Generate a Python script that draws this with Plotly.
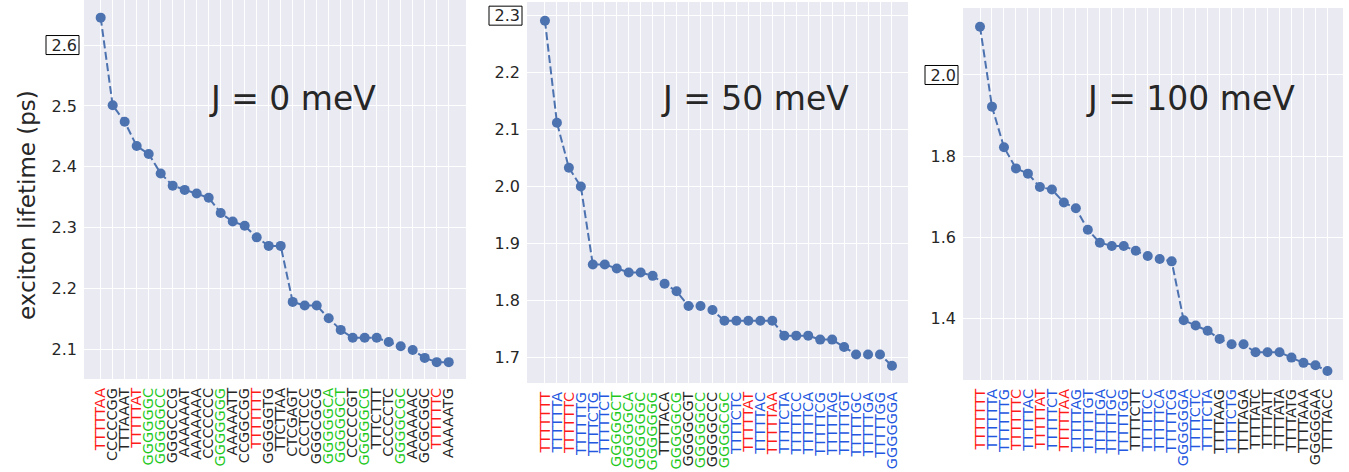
import plotly.graph_objects as go

# ---------------- data ----------------
seq_j0 = ["TTTTTAA", "CCCCCGG", "TTTAAAT", "TTTTTAT", "GGGGGGC", "GGGGGCC", "GGGCCCG",
          "AAAAAAT", "AAAAAAA", "CCCCCCC", "GGGGGGG", "AAAAATT", "CCGGCGG", "TTTTTTT",
          "GGGGGTG", "TTCTTAA", "CTCGAGT", "CCCTCCC", "GGGCGCG", "GGGGGCA", "GGGGGCT",
          "CCCCCGT", "GGGGGCG", "TTTCTTT", "CCCCCTC", "GGGGCGC", "AAAAAAC", "GCGCGGC",
          "TTTTTTC", "AAAAATG"]
grp_j0 = ["R", "K", "K", "R", "G", "G", "K", "K", "K", "K", "G", "K", "K", "R", "K",
          "K", "K", "K", "K", "G", "G", "K", "G", "K", "K", "G", "K", "K", "R", "K"]
life_j0 = [2.645, 2.501, 2.474, 2.434, 2.421, 2.389, 2.369, 2.362, 2.356, 2.349,
           2.324, 2.310, 2.303, 2.284, 2.270, 2.270, 2.178, 2.172, 2.172, 2.151,
           2.132, 2.119, 2.119, 2.119, 2.112, 2.105, 2.099, 2.086, 2.079, 2.079]

seq_j50 = ["TTTTTTT", "TTTTTTA", "TTTTTTC", "TTTTTTG", "TTTTCTG", "TTTTTCT", "GGGGGCT",
           "GGGGGCA", "GGGGGGC", "GGGGGGG", "TTTTACA", "GGGGGCG", "GGGGCGT", "GGGGGCC",
           "GGGGCCC", "GGGGCGC", "TTTTCTC", "TTTTTAT", "TTTTTAC", "TTTTTAA", "TTTTCTA",
           "TTTTTCC", "TTTTTCA", "TTTTTCG", "TTTTTAG", "TTTTTGT", "TTTTTGC", "TTTTTGA",
           "TTTTTGG", "GGGGGGA"]
grp_j50 = ["R", "B", "R", "B", "B", "B", "G", "G", "G", "G", "K", "G", "K", "G", "K",
           "G", "B", "R", "B", "R", "B", "B", "B", "B", "B", "B", "B", "B", "B", "B"]
life_j50 = [2.291, 2.112, 2.033, 2.000, 1.863, 1.863, 1.856, 1.849, 1.849, 1.843,
            1.829, 1.816, 1.790, 1.790, 1.783, 1.764, 1.764, 1.764, 1.764, 1.764,
            1.738, 1.738, 1.738, 1.731, 1.731, 1.718, 1.705, 1.705, 1.705, 1.685]

seq_j100 = ["TTTTTTT", "TTTTTTA", "TTTTTTG", "TTTTTTC", "TTTTTAC", "TTTTTAT", "TTTTTCT",
            "TTTTTAA", "TTTTTAG", "TTTTTGT", "TTTTTGA", "TTTTTGC", "TTTTTGG", "TTTTCTT",
            "TTTTTCC", "TTTTTCA", "TTTTTCG", "GGGGGGA", "TTTTCTC", "TTTTCTA", "TTTTAAG",
            "TTTTCTG", "TTTTAGA", "TTTTATC", "TTTTATT", "TTTTATA", "TTTTATG", "TTTTAAA",
            "GGGGGAA", "TTTTACC"]
grp_j100 = ["R", "B", "B", "R", "B", "R", "B", "R", "B", "B", "B", "B", "B", "K", "B",
            "B", "B", "B", "B", "B", "K", "B", "K", "K", "K", "K", "K", "K", "K", "K"]
life_j100 = [2.119, 1.922, 1.822, 1.770, 1.757, 1.724, 1.718, 1.686, 1.672, 1.619,
             1.587, 1.579, 1.579, 1.567, 1.554, 1.547, 1.541, 1.396, 1.383, 1.370,
             1.350, 1.337, 1.337, 1.317, 1.317, 1.317, 1.304, 1.291, 1.285, 1.271]

titles = ["J = 0 meV", "J = 50 meV", "J = 100 meV"]
boxed_ticks = [2.6, 2.3, 2.0]
ytitle = "exciton lifetime (ps)"

# ---------------- style ----------------
W, H = 1349, 472
FONT = "DejaVu Sans"
TXT = "#262626"
BG = "#EAEAF2"
LINE = "#4C72B0"
GRP_COLOR = {"R": "#ff1a1a", "G": "#1ec81e", "B": "#2457e0", "K": "#262626"}

panels = [
    dict(seq=seq_j0, grp=grp_j0, y=life_j0, px=(84, 466), py=(0, 379),
         xr=(-1.39, 30.44), yr=(2.0513, 2.674), dtick=0.1, tpos=(292, 98)),
    dict(seq=seq_j50, grp=grp_j50, y=life_j50, px=(527, 908), py=(2, 383),
         xr=(-1.5, 30.34), yr=(1.6548, 2.324), dtick=0.1, tpos=(755, 98)),
    dict(seq=seq_j100, grp=grp_j100, y=life_j100, px=(963, 1343), py=(8, 380),
         xr=(-1.42, 30.3), yr=(1.2488, 2.165), dtick=0.2, tpos=(1190, 98)),
]

fig = go.Figure()
shapes, annotations = [], []
for i, p in enumerate(panels):
    n = i + 1
    xa = "x" if n == 1 else f"x{n}"
    ya = "y" if n == 1 else f"y{n}"
    xs = list(range(len(p["seq"])))
    fig.add_trace(go.Scatter(
        x=xs, y=p["y"], mode="lines+markers", xaxis=xa, yaxis=ya,
        line=dict(color=LINE, width=2, dash="8px,3.5px"),
        marker=dict(color=LINE, size=10), showlegend=False))
    ticktext = [f'<span style="color:{GRP_COLOR[g]}">{s}</span>'
                for s, g in zip(p["seq"], p["grp"])]
    xkey = "xaxis" if n == 1 else f"xaxis{n}"
    ykey = "yaxis" if n == 1 else f"yaxis{n}"
    fig.update_layout(**{
        xkey: dict(domain=[p["px"][0] / W, p["px"][1] / W], range=list(p["xr"]),
                   anchor=ya, tickmode="array", tickvals=xs, ticktext=ticktext,
                   tickangle=-90, tickfont=dict(family=FONT, size=14.5, color=TXT),
                   ticklabelstandoff=5,
                   showgrid=True, gridcolor="white", gridwidth=1.4, zeroline=False,
                   showline=False, ticks="", automargin=False, fixedrange=True),
        ykey: dict(domain=[1 - p["py"][1] / H, 1 - p["py"][0] / H], range=list(p["yr"]),
                   anchor=xa, dtick=p["dtick"], tick0=0, tickformat=".1f",
                   tickfont=dict(family=FONT, size=16, color=TXT),
                   ticklabelstandoff=6,
                   showgrid=True, gridcolor="white", gridwidth=1.4, zeroline=False,
                   showline=False, ticks="", automargin=False, fixedrange=True),
    })
    shapes.append(dict(type="rect", xref="paper", yref="paper",
                       x0=p["px"][0] / W, x1=p["px"][1] / W,
                       y0=1 - p["py"][1] / H, y1=1 - p["py"][0] / H,
                       fillcolor=BG, line=dict(width=0), layer="below"))
    # box around the highlighted y tick label (pixel-sized, anchored to the tick value)
    shapes.append(dict(type="rect", xref=f"{xa} domain", yref=ya,
                       xsizemode="pixel", xanchor=0, x0=-38, x1=-5,
                       ysizemode="pixel", yanchor=boxed_ticks[i], y0=-9.5, y1=9.5,
                       line=dict(color="black", width=1), fillcolor="rgba(0,0,0,0)"))
    annotations.append(dict(text=titles[i], xref="paper", yref="paper",
                            x=p["tpos"][0] / W, y=1 - p["tpos"][1] / H,
                            xanchor="center", yanchor="middle", showarrow=False,
                            font=dict(family=FONT, size=33, color=TXT)))

annotations.append(dict(text=ytitle, xref="paper", yref="paper",
                        x=27 / W, y=1 - 205 / H, textangle=-90,
                        xanchor="center", yanchor="middle", showarrow=False,
                        font=dict(family=FONT, size=23, color=TXT)))

fig.update_layout(width=W, height=H, margin=dict(l=0, r=0, t=0, b=0),
                  paper_bgcolor="white", plot_bgcolor=BG,
                  shapes=shapes, annotations=annotations,
                  font=dict(family=FONT, color=TXT))

fig.write_html("out.html")
